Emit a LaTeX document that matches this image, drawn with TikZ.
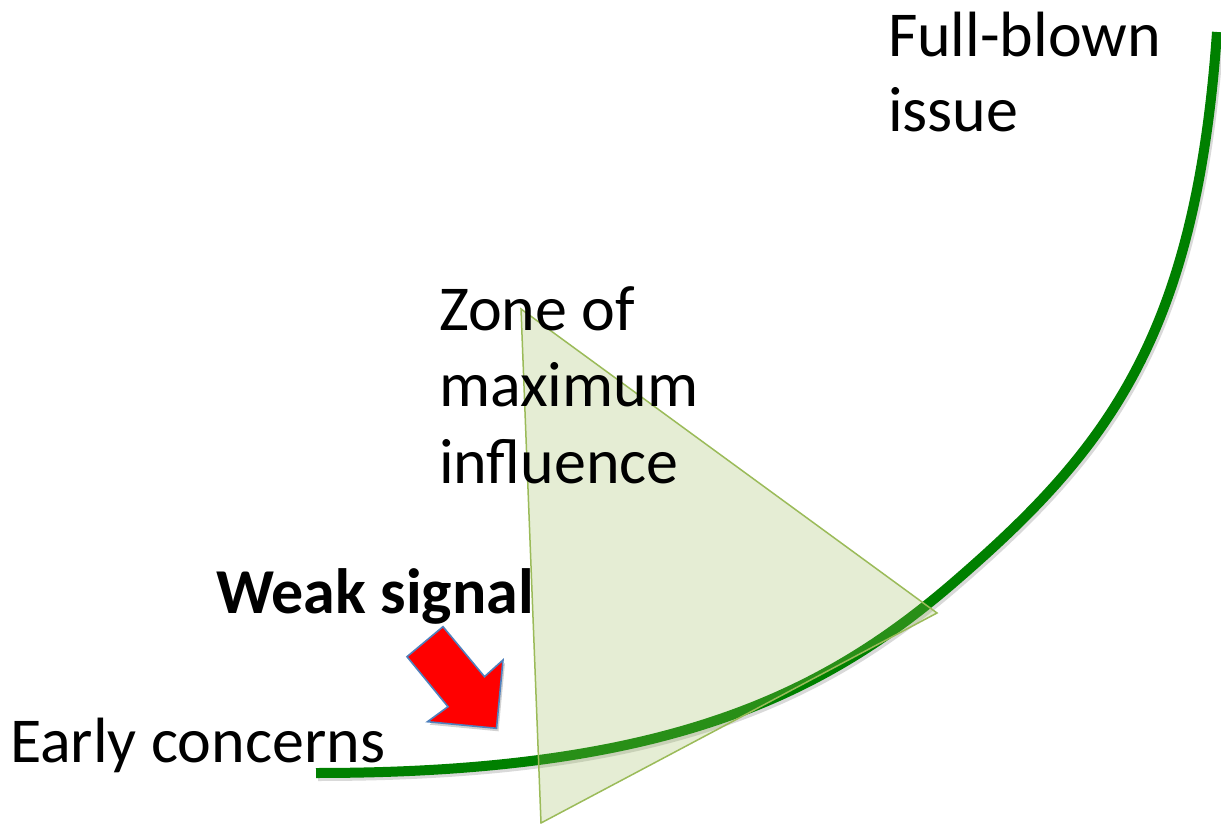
\documentclass[tikz,border=0pt]{standalone}
\usepackage{fontspec}
\setmainfont{Carlito}
\begin{document}
\begin{tikzpicture}[x=1pt,y=1pt,
  lbl/.style={anchor=base west,inner sep=0pt,outer sep=0pt,align=left,text=black},
  curvestyle/.style={line width=10pt,draw={rgb,255:red,0;green,128;blue,0},line cap=butt},
  shadowstyle/.style={draw=black,opacity=0.15,line width=10pt,line cap=butt},
  zonestyle/.style={fill={rgb,255:red,155;green,187;blue,89},fill opacity=0.26,
     draw={rgb,255:red,155;green,187;blue,89},draw opacity=1,line width=1.5pt,line join=miter},
  arrowstyle/.style={fill={rgb,255:red,255;green,0;blue,0},draw={rgb,255:red,79;green,129;blue,189},line width=1.6pt,line join=miter}]
\useasboundingbox (0,0) rectangle (1221,823);
\fill[white] (0,0) rectangle (1221,823);
% shadow of the curve
\draw[shadowstyle] (318,47) .. controls (668,47) and (826.3,124) .. (962,243)
   .. controls (1112.8,374.2) and (1198,488.6) .. (1219,788);
% the curve
\draw[curvestyle] (316,50) .. controls (666,50) and (824.3,127) .. (960,246)
   .. controls (1110.8,377.2) and (1196,491.6) .. (1217,791);
% zone triangle
\path[zonestyle] (521,514) -- (937,210) -- (541,0) -- cycle;
% red arrow with shadow
\fill[black,opacity=0.18] (409,163.3) -- (445,193.3) -- (486.5,143.3) -- (505,160) -- (498.5,91.7) -- (429.5,98.3) -- (450,113.3) -- cycle;
\path[arrowstyle] (407,166.3) -- (443,196.3) -- (484.5,146.3) -- (503,163) -- (496.5,94.7) -- (427.5,101.3) -- (448,116.3) -- cycle;
% labels
\node[lbl,font=\fontsize{64}{75}\selectfont] (full) at (888,691.3) {Full-blown\\issue};
\node[lbl,font=\fontsize{64}{76.5}\selectfont] (zone) at (439,339.7) {Zone of\\maximum\\influence};
\node[lbl,font=\fontsize{64}{75}\selectfont\bfseries] (weak) at (216,210) {Weak signal};
\node[lbl,font=\fontsize{64}{75}\selectfont] (early) at (10,61) {Early concerns};
\end{tikzpicture}
\end{document}
